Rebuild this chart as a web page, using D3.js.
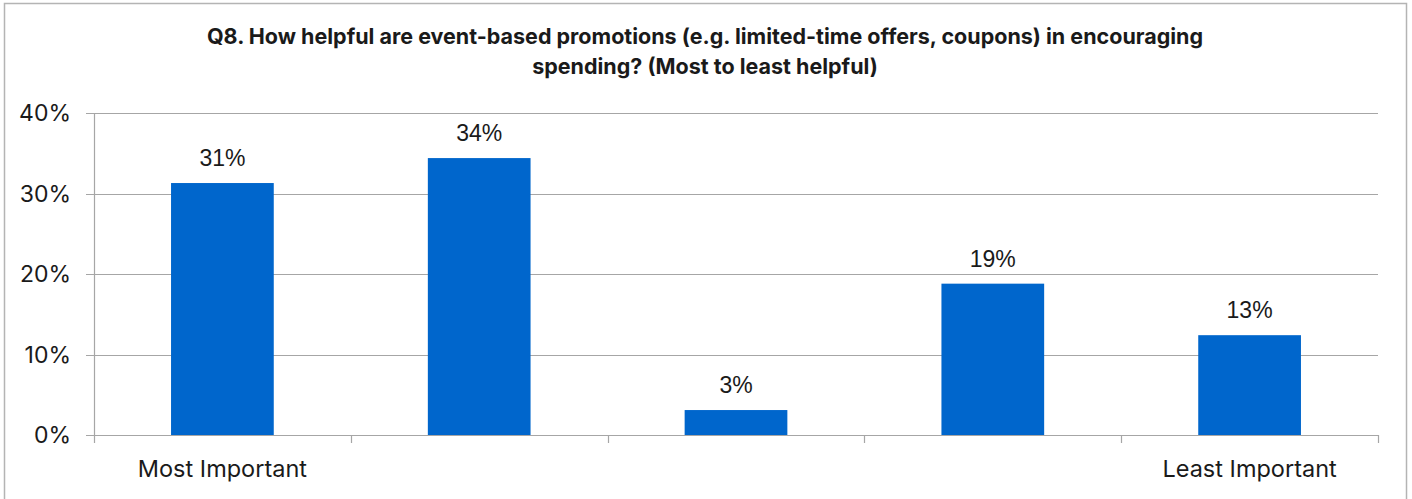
<!DOCTYPE html>
<html>
<head>
<meta charset="utf-8">
<script src="https://cdn.jsdelivr.net/npm/d3@7"></script>
<style>
  html, body { margin: 0; padding: 0; background: #fff; }
  svg { display: block; }
</style>
</head>
<body>
<svg id="chart" width="1412" height="499"></svg>
<script>
// Survey responses for Q8, ranked from most to least helpful
const categories = ["1", "2", "3", "4", "5"];
const values = [0.313, 0.344, 0.031, 0.188, 0.124];
const valueLabels = ["31%", "34%", "3%", "19%", "13%"];
const xTickLabels = ["Most Important", "", "", "", "Least Important"];
const yTicks = [0, 0.1, 0.2, 0.3, 0.4];
const titleLines = [
  "Q8. How helpful are event-based promotions (e.g. limited-time offers, coupons) in encouraging",
  "spending? (Most to least helpful)"
];

const svg = d3.select("#chart");
const W = 1412, H = 499;
const margin = { left: 94, right: 34, top: 113, bottom: 64 };
const plotW = W - margin.left - margin.right;
const plotH = H - margin.top - margin.bottom;

// Chart frame
svg.append("rect")
  .attr("x", 4.5).attr("y", 3.5)
  .attr("width", 1402).attr("height", 510)
  .attr("fill", "#fff").attr("stroke", "#b4b4b4").attr("stroke-width", 1.5);

// Title
svg.append("g").selectAll("text").data(titleLines).join("text")
  .attr("x", 705).attr("y", (d, i) => 44 + i * 30)
  .attr("text-anchor", "middle")
  .attr("font-family", "Inter, 'Open Sans', sans-serif")
  .attr("font-weight", "bold").attr("font-size", 21.5)
  .attr("fill", "#1a1a1a")
  .text(d => d);

const g = svg.append("g").attr("transform", `translate(${margin.left},${margin.top})`);

const x = d3.scaleBand().domain(categories).range([0, plotW]).paddingInner(0).paddingOuter(0);
const y = d3.scaleLinear().domain([0, 0.4]).range([plotH, 0]);
const barW = x.bandwidth() * 0.4;

// Horizontal gridlines
g.append("g").selectAll("line").data(yTicks).join("line")
  .attr("x1", -8).attr("x2", plotW)
  .attr("y1", d => Math.round(y(d)) + 0.5).attr("y2", d => Math.round(y(d)) + 0.5)
  .attr("stroke", "#a6a6a6").attr("stroke-width", 1.2);

// Y axis line
g.append("line")
  .attr("x1", 0.5).attr("x2", 0.5).attr("y1", y(0.4)).attr("y2", plotH + 8)
  .attr("stroke", "#a6a6a6").attr("stroke-width", 1.2);

// Y tick labels
g.append("g").selectAll("text").data(yTicks).join("text")
  .attr("x", -23).attr("y", d => y(d))
  .attr("dy", "0.36em")
  .attr("text-anchor", "end")
  .attr("font-family", "Inter, 'Open Sans', sans-serif")
  .attr("font-size", 23).attr("fill", "#1a1a1a")
  .text(d => d3.format(".0%")(d));

// X category boundary ticks
const boundaries = categories.map(c => x(c)).concat([plotW]);
g.append("g").selectAll("line").data(boundaries.slice(1)).join("line")
  .attr("x1", d => Math.round(d) + 0.5).attr("x2", d => Math.round(d) + 0.5)
  .attr("y1", plotH).attr("y2", plotH + 8)
  .attr("stroke", "#a6a6a6").attr("stroke-width", 1.2);

// Bars
g.append("g").selectAll("rect").data(values).join("rect")
  .attr("x", (d, i) => x(categories[i]) + x.bandwidth() / 2 - barW / 2)
  .attr("width", barW)
  .attr("y", d => y(d))
  .attr("height", d => plotH - y(d))
  .attr("fill", "#0066cc");

// Value labels
g.append("g").selectAll("text").data(values).join("text")
  .attr("x", (d, i) => x(categories[i]) + x.bandwidth() / 2)
  .attr("y", d => y(d) - 17)
  .attr("text-anchor", "middle")
  .attr("font-family", "'Liberation Sans', Arial, sans-serif")
  .attr("font-size", 23).attr("fill", "#1a1a1a")
  .text((d, i) => valueLabels[i]);

// X category labels
g.append("g").selectAll("text").data(xTickLabels).join("text")
  .attr("x", (d, i) => x(categories[i]) + x.bandwidth() / 2)
  .attr("y", plotH + 42)
  .attr("text-anchor", "middle")
  .attr("font-family", "Inter, 'Open Sans', sans-serif")
  .attr("font-size", 23.5).attr("fill", "#1a1a1a")
  .text(d => d);
</script>
</body>
</html>
